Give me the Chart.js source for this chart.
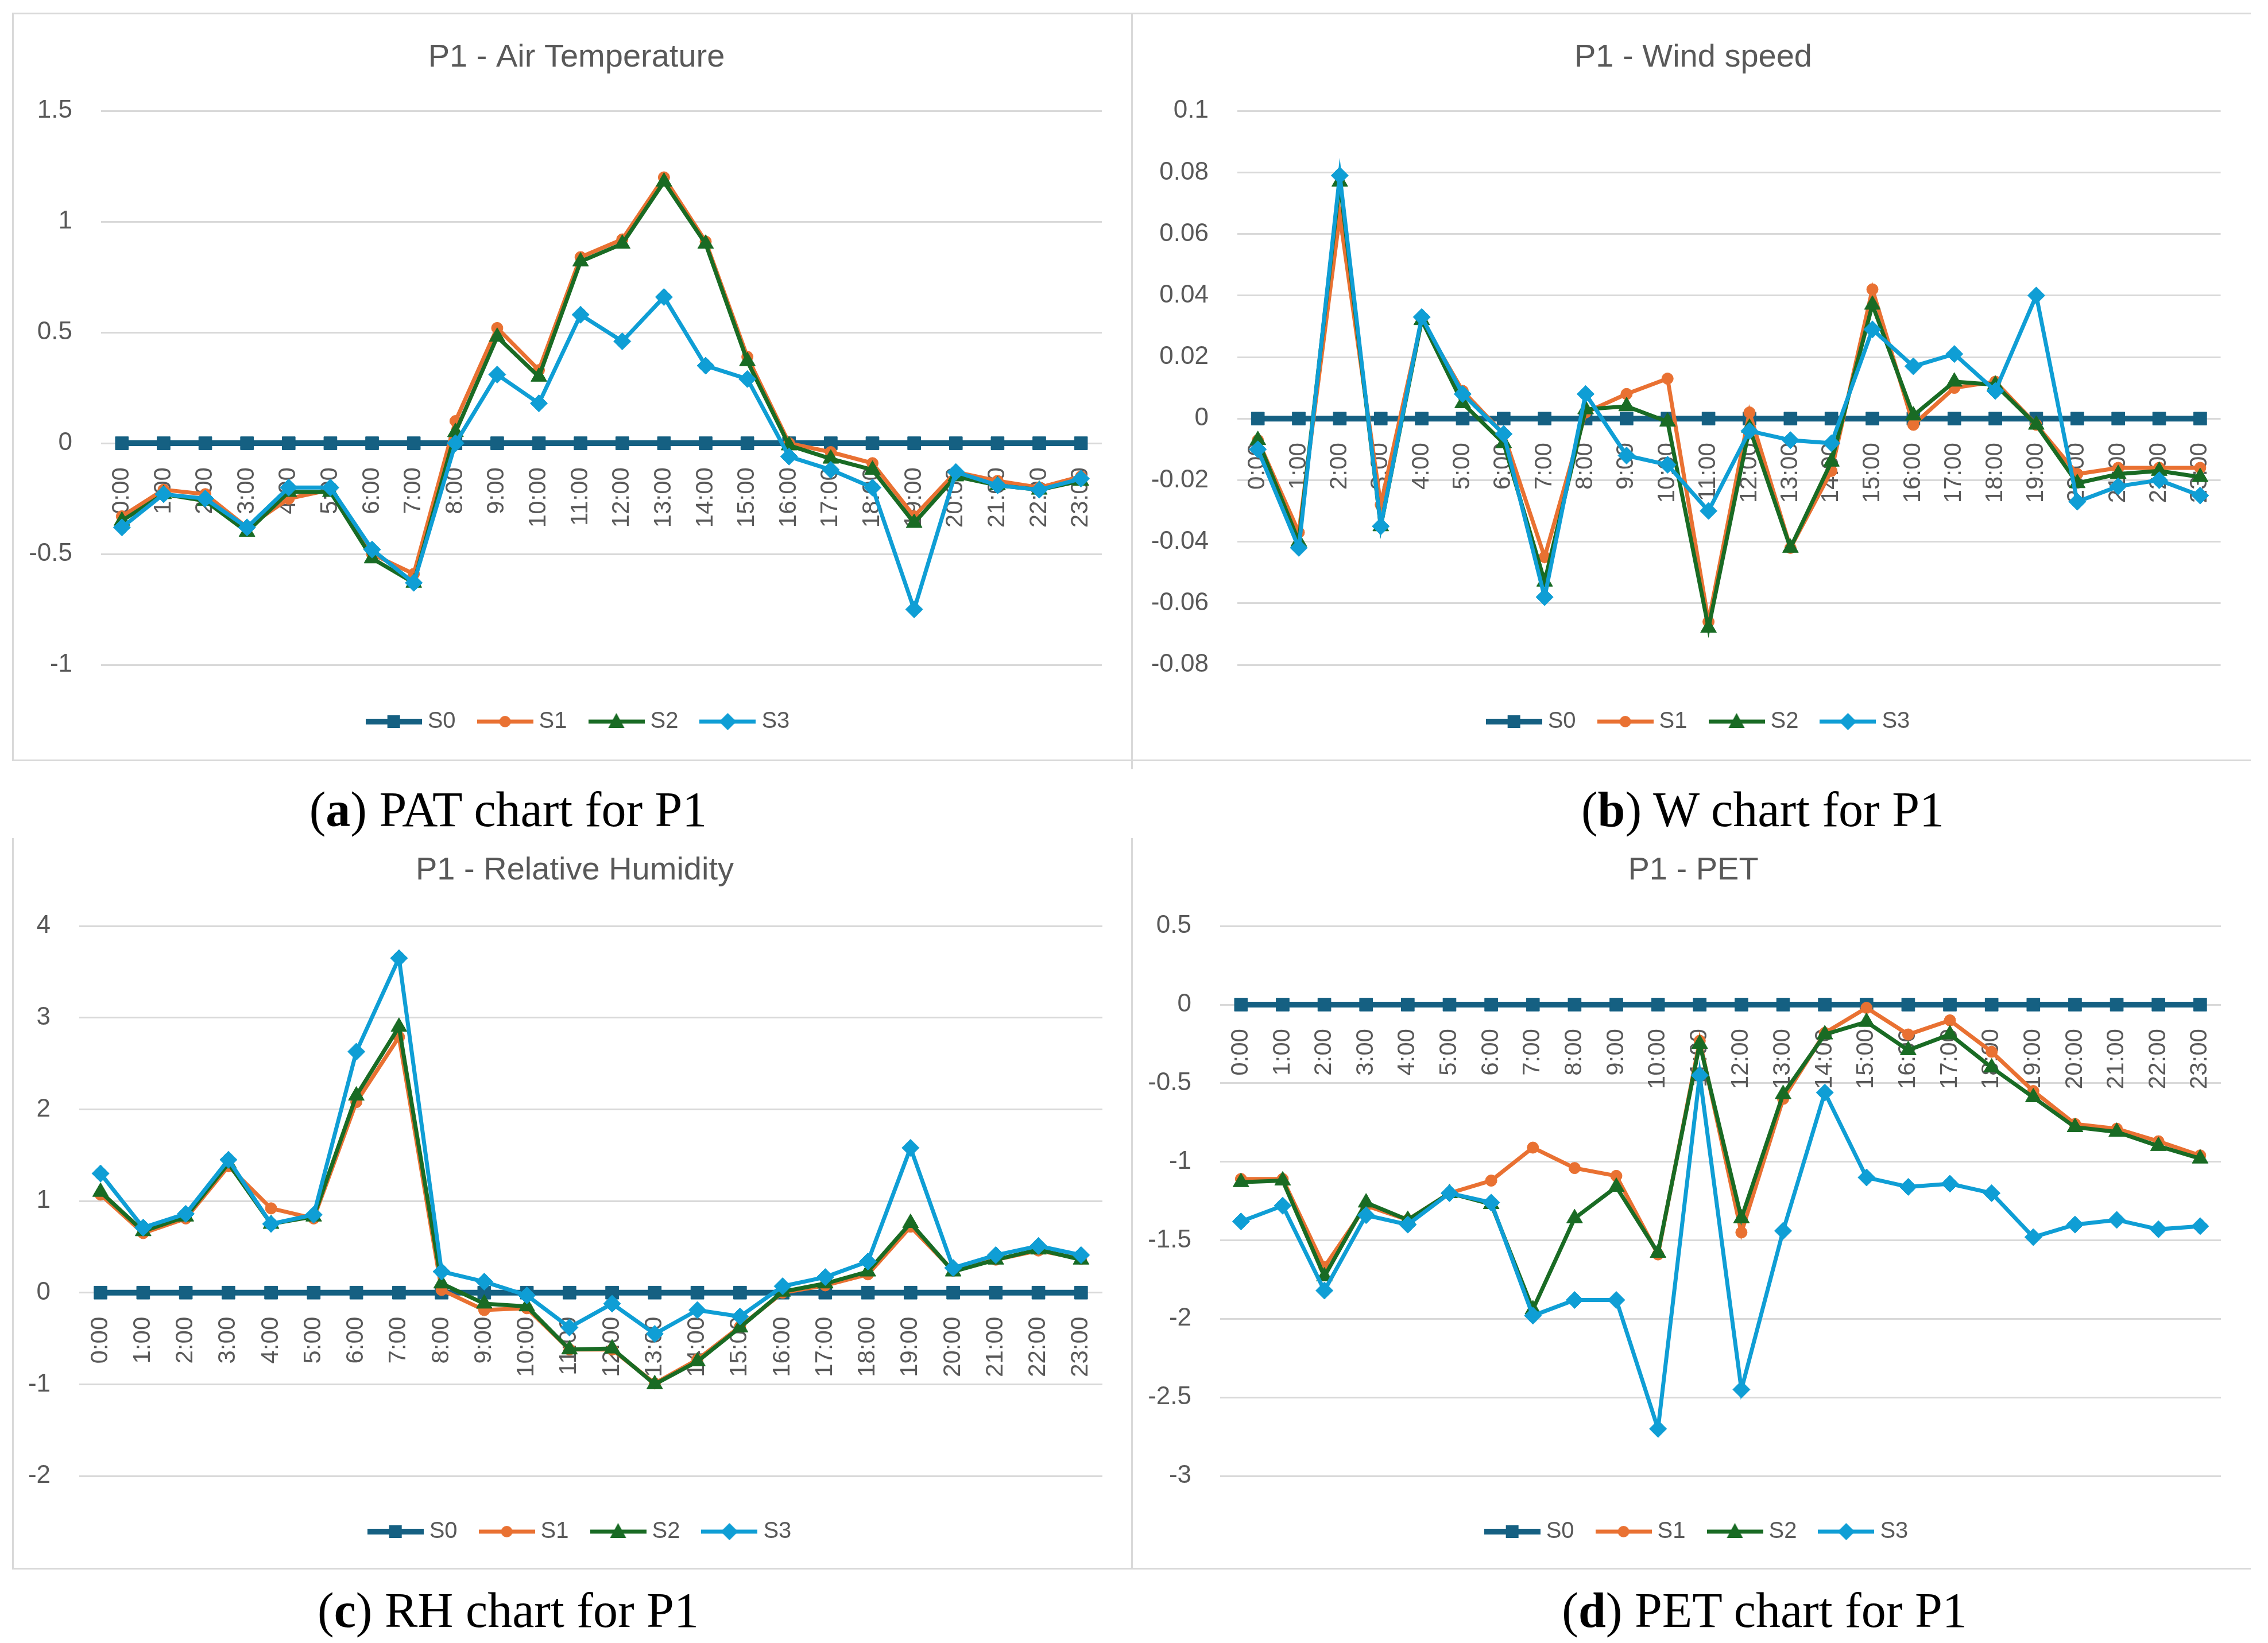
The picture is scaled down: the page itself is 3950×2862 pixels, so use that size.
<!DOCTYPE html>
<html>
<head>
<meta charset="utf-8">
<script src="https://cdn.jsdelivr.net/npm/chart.js@4.4.1/dist/chart.umd.min.js"></script>
<style>
    html, body { margin: 0; padding: 0; background: #fff; }
    body { width: 3950px; height: 2862px; position: relative; overflow: hidden; }
    canvas { position: absolute; }
    .garis { position: absolute; background: #d9d9d9; }
    .cap { position: absolute; width: 1200px; text-align: center; font-family: 'Liberation Serif', serif; font-size: 86px; line-height: 100px; color: #000; white-space: nowrap; }
</style>
</head>
<body>
<!-- bingkai panel -->
<div class="garis" style="left:21px;top:22px;width:3899px;height:3px"></div>
<div class="garis" style="left:21px;top:22px;width:3px;height:1304px"></div>
<div class="garis" style="left:1970px;top:22px;width:3px;height:1318px"></div>
<div class="garis" style="left:21px;top:1323px;width:3899px;height:3px"></div>
<div class="garis" style="left:21px;top:1460px;width:3px;height:1274px"></div>
<div class="garis" style="left:1970px;top:1460px;width:3px;height:1274px"></div>
<div class="garis" style="left:21px;top:2731px;width:3899px;height:3px"></div>

<canvas id="grafikPAT" width="1943" height="1295" style="left:25px;top:26px"></canvas>
<canvas id="grafikW" width="1943" height="1295" style="left:1974px;top:26px"></canvas>
<canvas id="grafikRH" width="1943" height="1266" style="left:25px;top:1463px"></canvas>
<canvas id="grafikPET" width="1943" height="1266" style="left:1974px;top:1463px"></canvas>

<div class="cap" style="left:285px;top:1360px">(<b>a</b>) PAT chart for P1</div>
<div class="cap" style="left:2470px;top:1360px">(<b>b</b>) W chart for P1</div>
<div class="cap" style="left:285px;top:2755px">(<b>c</b>) RH chart for P1</div>
<div class="cap" style="left:2473px;top:2755px">(<b>d</b>) PET chart for P1</div>

<script>
const jam = ['0:00', '1:00', '2:00', '3:00', '4:00', '5:00', '6:00', '7:00', '8:00', '9:00', '10:00', '11:00',
    '12:00', '13:00', '14:00', '15:00', '16:00', '17:00', '18:00', '19:00', '20:00', '21:00', '22:00', '23:00'];
const namaSeri = ['S0', 'S1', 'S2', 'S3'];
const warnaSeri = ['#156082', '#E97132', '#196B24', '#0F9ED5'];

// P1 - Air Temperature
const patS0 = [0, 0, 0, 0, 0, 0, 0, 0, 0, 0, 0, 0, 0, 0, 0, 0, 0, 0, 0, 0, 0, 0, 0, 0];
const patS1 = [-0.33, -0.21, -0.23, -0.38, -0.25, -0.21, -0.50, -0.59, 0.10, 0.52, 0.33, 0.84, 0.92, 1.20, 0.91, 0.39, 0.00, -0.04, -0.09, -0.33, -0.13, -0.17, -0.20, -0.15];
const patS2 = [-0.35, -0.23, -0.26, -0.40, -0.22, -0.22, -0.52, -0.63, 0.05, 0.48, 0.30, 0.82, 0.90, 1.18, 0.90, 0.37, -0.01, -0.07, -0.12, -0.36, -0.15, -0.19, -0.21, -0.17];
const patS3 = [-0.38, -0.23, -0.25, -0.38, -0.20, -0.20, -0.48, -0.63, 0.00, 0.31, 0.18, 0.58, 0.46, 0.66, 0.35, 0.29, -0.06, -0.12, -0.20, -0.75, -0.13, -0.19, -0.21, -0.16];
const patTicks = [-1, -0.5, 0, 0.5, 1, 1.5];

// P1 - Wind speed
const wS0 = [0, 0, 0, 0, 0, 0, 0, 0, 0, 0, 0, 0, 0, 0, 0, 0, 0, 0, 0, 0, 0, 0, 0, 0];
const wS1 = [-0.007, -0.037, 0.066, -0.028, 0.032, 0.009, -0.005, -0.045, 0.002, 0.008, 0.013, -0.066, 0.002, -0.042, -0.017, 0.042, -0.002, 0.010, 0.012, -0.002, -0.018, -0.016, -0.016, -0.016];
const wS2 = [-0.007, -0.040, 0.077, -0.035, 0.032, 0.005, -0.008, -0.053, 0.003, 0.004, -0.001, -0.068, -0.003, -0.042, -0.014, 0.037, 0.001, 0.012, 0.011, -0.002, -0.021, -0.018, -0.017, -0.019];
const wS3 = [-0.010, -0.042, 0.079, -0.035, 0.033, 0.008, -0.005, -0.058, 0.008, -0.012, -0.015, -0.030, -0.004, -0.007, -0.008, 0.029, 0.017, 0.021, 0.009, 0.040, -0.027, -0.022, -0.020, -0.025];
const wTicks = [-0.08, -0.06, -0.04, -0.02, 0, 0.02, 0.04, 0.06, 0.08, 0.1];

// P1 - Relative Humidity
const rhS0 = [0, 0, 0, 0, 0, 0, 0, 0, 0, 0, 0, 0, 0, 0, 0, 0, 0, 0, 0, 0, 0, 0, 0, 0];
const rhS1 = [1.07, 0.65, 0.81, 1.38, 0.92, 0.81, 2.08, 2.79, 0.03, -0.19, -0.17, -0.62, -0.62, -0.99, -0.73, -0.37, 0.00, 0.08, 0.20, 0.72, 0.24, 0.36, 0.46, 0.37];
const rhS2 = [1.10, 0.67, 0.83, 1.41, 0.75, 0.83, 2.15, 2.90, 0.10, -0.12, -0.15, -0.62, -0.61, -1.00, -0.75, -0.38, 0.01, 0.10, 0.23, 0.76, 0.23, 0.36, 0.47, 0.36];
const rhS3 = [1.30, 0.71, 0.86, 1.45, 0.75, 0.85, 2.63, 3.65, 0.23, 0.12, -0.03, -0.38, -0.12, -0.45, -0.19, -0.26, 0.07, 0.17, 0.34, 1.58, 0.27, 0.41, 0.51, 0.41];
const rhTicks = [-2, -1, 0, 1, 2, 3, 4];

// P1 - PET
const petS0 = [0, 0, 0, 0, 0, 0, 0, 0, 0, 0, 0, 0, 0, 0, 0, 0, 0, 0, 0, 0, 0, 0, 0, 0];
const petS1 = [-1.11, -1.11, -1.67, -1.28, -1.37, -1.20, -1.12, -0.91, -1.04, -1.09, -1.59, -0.23, -1.45, -0.60, -0.18, -0.02, -0.19, -0.10, -0.30, -0.55, -0.76, -0.79, -0.87, -0.96];
const petS2 = [-1.13, -1.12, -1.73, -1.26, -1.37, -1.20, -1.27, -1.94, -1.36, -1.16, -1.58, -0.25, -1.36, -0.57, -0.19, -0.11, -0.29, -0.19, -0.40, -0.59, -0.78, -0.81, -0.90, -0.98];
const petS3 = [-1.38, -1.28, -1.82, -1.34, -1.40, -1.20, -1.26, -1.98, -1.88, -1.88, -2.70, -0.45, -2.45, -1.44, -0.56, -1.10, -1.16, -1.14, -1.20, -1.48, -1.40, -1.37, -1.43, -1.41];
const petTicks = [-3, -2.5, -2, -1.5, -1, -0.5, 0, 0.5];

Chart.defaults.font.family = "'Liberation Sans', Arial, sans-serif";
Chart.defaults.color = '#595959';

const bentukTitik = ['rect', 'circle', 'triangle', 'rectRot'];
const radiusTitik = [16, 10, 16, 15];
const tebalGaris = [10, 7, 7, 7];

// ikon legenda: garis + penanda seperti Excel
function buatIkon(i) {
    const c = document.createElement('canvas');
    c.width = 98;
    c.height = 36;
    const g = c.getContext('2d');
    g.strokeStyle = warnaSeri[i];
    g.fillStyle = warnaSeri[i];
    g.lineWidth = tebalGaris[i];
    g.beginPath();
    g.moveTo(0, 18);
    g.lineTo(98, 18);
    g.stroke();
    g.beginPath();
    if (i === 0) g.rect(38, 7, 22, 22);
    else if (i === 1) g.arc(49, 18, 10, 0, Math.PI * 2);
    else if (i === 2) { g.moveTo(49, 3); g.lineTo(63, 29); g.lineTo(35, 29); g.closePath(); }
    else { g.moveTo(49, 3); g.lineTo(64, 18); g.lineTo(49, 33); g.lineTo(34, 18); g.closePath(); }
    g.fill();
    return c;
}
const ikonLegenda = namaSeri.map((n, i) => buatIkon(i));

// geser judul & legenda ke tengah panel (label sumbu Y butuh padding kiri kecil)
const geserJudul = {
    id: 'geserJudul',
    afterLayout(chart) {
        const t = chart.options.plugins.geserJudul;
        [[chart.titleBlock, t.judul], [chart.legend, t.legenda]].forEach(([box, tengah]) => {
            if (!box) return;
            const d = tengah - (box.left + box.right) / 2;
            box.left += d;
            box.right += d;
        });
    }
};

function buatGrafik(id, judul, seri, ticks, tata) {
    const ctx = document.getElementById(id).getContext('2d');
    const datasets = seri.map((data, i) => ({
        label: namaSeri[i],
        data: data,
        borderColor: warnaSeri[i],
        backgroundColor: warnaSeri[i],
        borderWidth: tebalGaris[i],
        pointStyle: bentukTitik[i],
        pointRadius: radiusTitik[i],
        pointBorderWidth: 1,
        pointBackgroundColor: warnaSeri[i],
        pointBorderColor: warnaSeri[i],
        tension: 0,
        order: 4 - i
    }));

    return new Chart(ctx, {
        type: 'line',
        data: { labels: jam, datasets: datasets },
        plugins: [geserJudul],
        options: {
            responsive: false,
            animation: false,
            devicePixelRatio: 1,
            layout: { padding: { left: tata.kiri, right: tata.kanan, top: 0, bottom: tata.bawah } },
            scales: {
                x: {
                    type: 'category',
                    offset: true,
                    position: { y: 0 },
                    grid: { display: false },
                    border: { display: false },
                    ticks: {
                        autoSkip: false,
                        minRotation: 90,
                        maxRotation: 90,
                        padding: 34,
                        color: '#595959',
                        font: { size: 42 }
                    }
                },
                y: {
                    min: ticks[0],
                    max: ticks[ticks.length - 1],
                    afterBuildTicks: s => { s.ticks = ticks.map(v => ({ value: v })); },
                    afterFit: s => { s.width = tata.lebarY; },
                    grid: { color: '#d9d9d9', lineWidth: 3, drawTicks: false },
                    border: { display: false },
                    ticks: {
                        padding: 50,
                        color: '#595959',
                        font: { size: 44 },
                        callback: v => String(v)
                    }
                }
            },
            plugins: {
                geserJudul: { judul: tata.tengahJudul, legenda: tata.tengahLegenda },
                title: {
                    display: true,
                    text: judul,
                    color: '#595959',
                    font: { size: 56, weight: 'normal' },
                    padding: { top: tata.judulAtas, bottom: tata.judulBawah }
                },
                legend: {
                    position: 'bottom',
                    title: { display: true, text: '', font: { size: 10 }, padding: { top: tata.legendaAtas, bottom: 0 } },
                    labels: {
                        usePointStyle: true,
                        pointStyleWidth: 78,
                        padding: 47,
                        color: '#595959',
                        font: { size: 40 },
                        generateLabels: chart => chart.data.datasets.map((ds, i) => ({
                            text: ds.label,
                            pointStyle: ikonLegenda[i],
                            fillStyle: ds.borderColor,
                            strokeStyle: ds.borderColor,
                            lineWidth: 0,
                            fontColor: '#595959',
                            hidden: false,
                            datasetIndex: i
                        }))
                    }
                },
                tooltip: { enabled: false }
            }
        }
    });
}

buatGrafik('grafikPAT', 'P1 - Air Temperature', [patS0, patS1, patS2, patS3], patTicks,
    { kiri: 15, kanan: 47, bawah: 34, lebarY: 136, judulAtas: 41, judulBawah: 59, legendaAtas: 20, tengahJudul: 979, tengahLegenda: 986 });
buatGrafik('grafikW', 'P1 - Wind speed', [wS0, wS1, wS2, wS3], wTicks,
    { kiri: 20, kanan: 35, bawah: 34, lebarY: 161, judulAtas: 41, judulBawah: 59, legendaAtas: 20, tengahJudul: 975, tengahLegenda: 988 });
buatGrafik('grafikRH', 'P1 - Relative Humidity', [rhS0, rhS1, rhS2, rhS3], rhTicks,
    { kiri: 15, kanan: 38, bawah: 31, lebarY: 98, judulAtas: 20, judulBawah: 63, legendaAtas: 18, tengahJudul: 976, tengahLegenda: 989 });
buatGrafik('grafikPET', 'P1 - PET', [petS0, petS1, petS2, petS3], petTicks,
    { kiri: 15, kanan: 37, bawah: 31, lebarY: 136, judulAtas: 20, judulBawah: 63, legendaAtas: 18, tengahJudul: 975, tengahLegenda: 985 });
</script>
</body>
</html>
